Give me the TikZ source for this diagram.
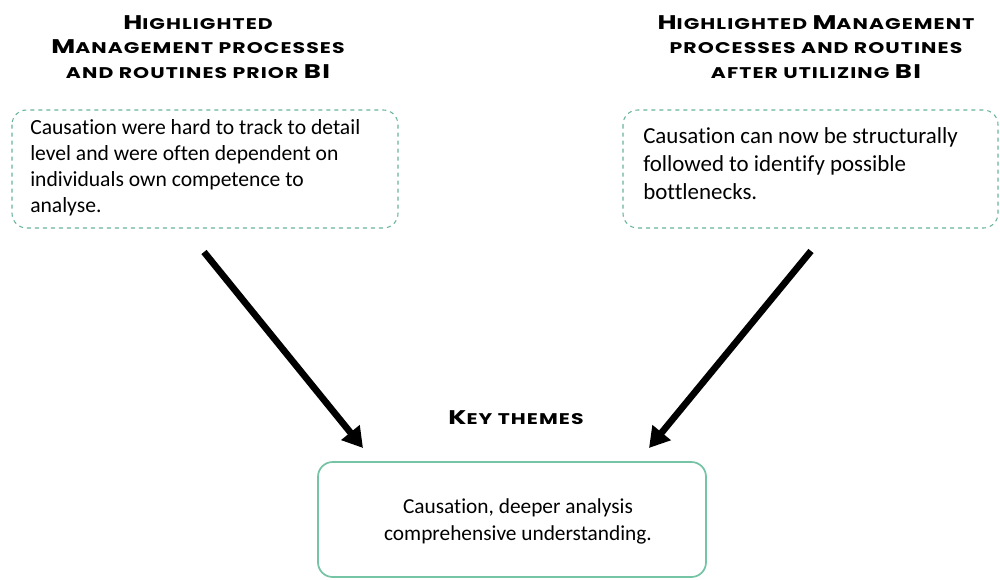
\documentclass[tikz,border=0pt]{standalone}
\usepackage{fontspec}
\usetikzlibrary{arrows.meta}
\setmainfont{Carlito}[Ligatures=NoCommon]
\newfontfamily\headfont{Poppins}[FakeStretch=1.32, LetterSpace=7]
\definecolor{mint}{RGB}{118,196,166}
\definecolor{mintdash}{RGB}{105,180,150}
% fake small caps: initial capitals drawn larger
\newcommand\Ini[1]{{\fontsize{14.8}{18}\selectfont #1}}
\tikzset{
  heading/.style={font=\headfont\bfseries\fontsize{11.6}{18.4}\selectfont, align=center, inner sep=0pt},
  dashbox/.style={draw=mintdash, dashed, line width=0.8pt, rounded corners=11pt},
  solidbox/.style={draw=mint, line width=1.3pt, rounded corners=11pt},
  bodytext/.style={align=left, inner sep=0pt, anchor=north west},
  bigarrow/.style={line width=5pt, -{Triangle[length=15pt, width=17pt]}}
}
\begin{document}
\begin{tikzpicture}[x=0.75pt, y=-0.75pt]
\useasboundingbox (0,0) rectangle (1000,579);

% headings
\node[heading] (lhead) at (198,47) {\Ini{H}IGHLIGHTED\\\Ini{M}ANAGEMENT PROCESSES\\AND ROUTINES PRIOR \Ini{BI}};
\node[heading] (rhead) at (816,47) {\Ini{H}IGHLIGHTED \Ini{M}ANAGEMENT\\PROCESSES AND ROUTINES\\AFTER UTILIZING \Ini{BI}};
\node[heading] (khead) at (516,418) {\Ini{K}EY THEMES};

% boxes
\draw[dashbox] (12,110) rectangle (398,228);
\node (lbox) at (205,169) {};
\draw[dashbox] (623,110) rectangle (998,228);
\node (rbox) at (810,169) {};
\draw[solidbox] (318,462) rectangle (706,577);
\node (kbox) at (512,520) {};

% box texts
\node[bodytext, font=\fontsize{16.2}{19.6}\selectfont] (ltext) at (30,119) {Causation were hard to track to detail\\level and were often dependent on\\individuals own competence to\\analyse.};
\node[bodytext, font=\fontsize{17.2}{21}\selectfont] (rtext) at (643,127) {Causation can now be structurally\\followed to identify possible\\bottlenecks.};
\node[font=\fontsize{16}{20.2}\selectfont, align=center, inner sep=0pt] (ktext) at (518,521) {Causation, deeper analysis\\comprehensive understanding.};

% arrows
\coordinate (la) at (204,252);
\coordinate (lb) at (363,448);
\coordinate (ra) at (811,251);
\coordinate (rb) at (649,448);
\draw[bigarrow] (la) -- (lb);
\draw[bigarrow] (ra) -- (rb);
\end{tikzpicture}
\end{document}
